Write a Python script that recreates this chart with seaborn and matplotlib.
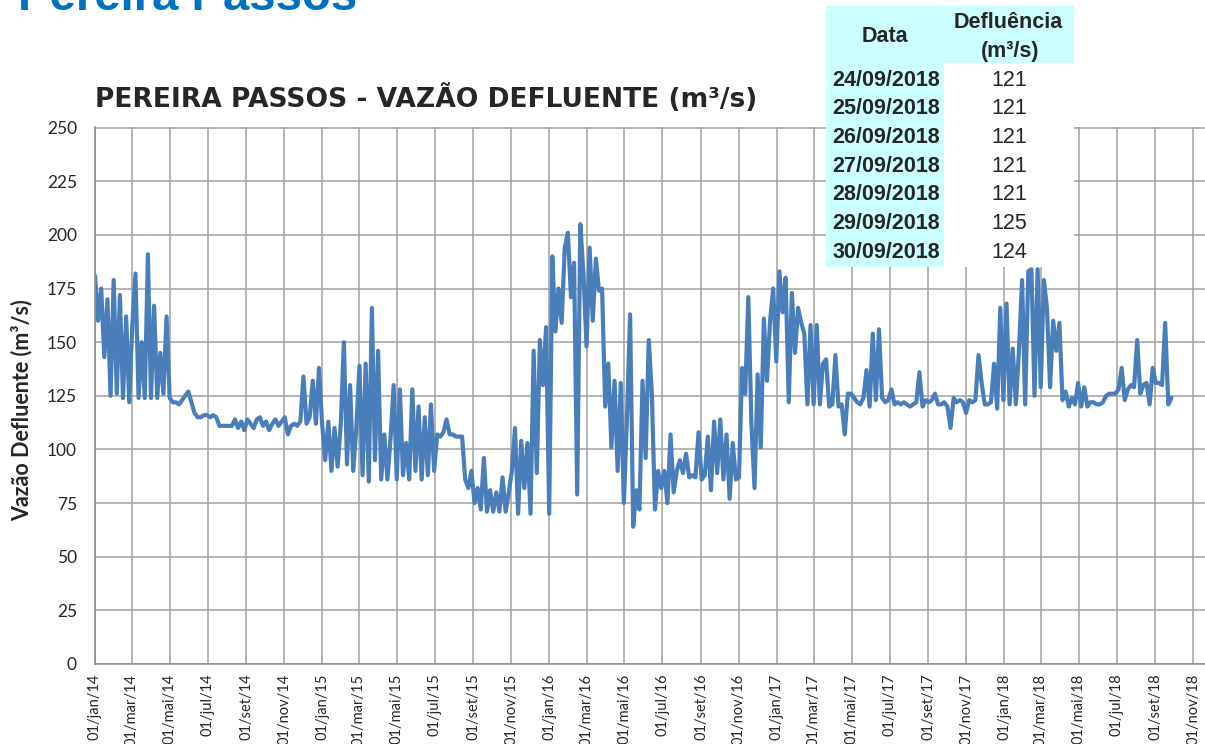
import pandas as pd
import matplotlib
matplotlib.use('Agg')
import matplotlib.pyplot as plt
from matplotlib.patches import Rectangle
import seaborn as sns

# ----------------------------
# DADOS (vazao defluente, um ponto a cada 5 dias a partir de 01/01/2014)
# ----------------------------
inicio = '2014-01-01'
passo = '5D'

vazao = [
    # 2014 jan-abr
    181, 160, 175, 143, 170, 125, 179, 126, 172, 124, 162, 122, 158, 182, 124,
    150, 124, 191, 124, 167, 124, 145, 126, 162, 124,
    # 2014 mai-dez
    122, 122, 121, 123, 125, 127, 122, 117, 115, 115, 116, 116, 115, 116, 115,
    111, 111, 111, 111, 111, 114, 110, 113, 109, 114, 112, 110, 114, 115, 111,
    113, 109, 112, 114, 111, 113, 115, 107, 111, 112, 111, 113, 134, 112, 115,
    132, 112, 138, 112,
    # 2015 jan-ago
    95, 113, 90, 110, 92, 112, 150, 93, 130, 90, 110, 139, 88, 140, 85,
    166, 95, 146, 86, 107, 86, 105, 130, 86, 128, 88, 103, 86, 128, 90,
    120, 86, 115, 88, 121, 90, 107, 106, 108, 114, 107, 107, 106, 106, 106,
    # 2015 set-dez
    86, 82, 90, 75, 82, 72, 96, 71, 81, 71, 80, 71, 87, 71, 80,
    90, 110, 70, 104, 82, 103, 70, 146, 89, 151, 130, 157, 70,
    # 2016
    190, 155, 175, 159, 194, 201, 171, 187, 79, 205, 182, 148, 194, 160, 189,
    174, 175, 120, 140, 101, 132, 90, 131, 75, 115, 163, 64, 81, 72, 132,
    96, 151, 126, 72, 90, 82, 90, 75, 107, 80, 90, 95, 89, 98, 87,
    88, 87, 108, 86, 88, 106, 81, 113, 89, 114, 86, 107, 77, 103, 86, 87,
    # 2016 nov - 2017 mai
    138, 126, 171, 112, 82, 135, 101, 161, 132, 160, 175, 141, 183, 164, 180,
    122, 173, 145, 166, 159, 154, 121, 158, 121, 158, 121, 140, 142, 120, 121,
    144, 120, 121, 107, 126, 126, 124, 122, 121,
    # 2017 mai-dez
    124, 137, 120, 154, 123, 156, 124, 122, 123, 128, 121, 122, 121, 122, 121,
    120, 121, 122, 136, 120, 123, 122, 123, 126, 121, 121, 122, 120, 110, 124,
    122, 123, 122, 117, 123, 122, 123, 144, 131, 121, 121, 122, 140, 119,
    # 2018
    166, 123, 168, 121, 147, 121, 146, 179, 121, 183, 184, 125, 184, 129, 179,
    166, 129, 160, 146, 159, 123, 127, 120, 124, 121, 131, 120, 129, 120, 122,
    122, 121, 121, 122, 125, 126, 126, 126, 128, 138, 123, 128, 130, 129, 151,
    126, 130, 131, 121, 138, 131, 131, 130, 159, 121, 124,
]

meses = ['jan', 'mar', 'mai', 'jul', 'set', 'nov']
y_ticks = [0, 25, 50, 75, 100, 125, 150, 175, 200, 225, 250]

tabela_datas = ['24/09/2018', '25/09/2018', '26/09/2018', '27/09/2018',
                '28/09/2018', '29/09/2018', '30/09/2018']
tabela_valores = [121, 121, 121, 121, 121, 125, 124]

df = pd.DataFrame({
    'data': pd.date_range(inicio, periods=len(vazao), freq=passo),
    'vazao': vazao,
})

W, H = 1205, 744

sns.set_style('white')
plt.rcParams['font.family'] = ['Lato', 'DejaVu Sans']

fig = plt.figure(figsize=(W / 100, H / 100), dpi=100)
ax = fig.add_axes([95 / W, 80 / H, 1110 / W, 537 / H])

# ----------------------------
# LINHA
# ----------------------------
sns.lineplot(data=df, x='data', y='vazao', ax=ax, color='#4A7EBB',
             linewidth=3.0, solid_joinstyle='round', solid_capstyle='round')

ticks = pd.date_range('2014-01-01', '2018-11-01', freq='2MS')
labels = [f"01/{meses[(d.month - 1) // 2]}/{d.strftime('%y')}" for d in ticks]
ax.set_xticks(ticks)
ax.set_xticklabels(labels, rotation=90, fontsize=10.5)
ax.set_xlim(pd.Timestamp('2014-01-01'), pd.Timestamp('2018-11-20'))

ax.set_yticks(y_ticks)
ax.set_yticklabels([str(v) for v in y_ticks], fontsize=12.5)
ax.set_ylim(0, 250.3)

ax.set_xlabel('')
ax.set_ylabel('')

grid_cor = '#A0A0A0'
ax.grid(True, color=grid_cor, linewidth=1.1)
ax.set_axisbelow(True)
for lado in ['top', 'right']:
    ax.spines[lado].set_visible(False)
for lado in ['left', 'bottom']:
    ax.spines[lado].set_color('#8C8C8C')
    ax.spines[lado].set_linewidth(1.1)

ax.tick_params(axis='y', length=5, width=1.1, color='#8C8C8C', pad=8)
ax.tick_params(axis='x', length=5, width=1.1, color='#8C8C8C', pad=2)

# ----------------------------
# TEXTOS
# ----------------------------
fig.text(18 / W, 1 - 9.5 / H, 'Pereira Passos', color='#0070C0',
         fontsize=34, fontweight='bold', family='Liberation Sans',
         ha='left', va='baseline')

fig.text(95 / W, 1 - 99 / H, 'PEREIRA PASSOS - VAZÃO DEFLUENTE (m³/s)',
         fontsize=19.1, fontweight='bold', family='DejaVu Sans',
         ha='left', va='center')

fig.text(22 / W, 1 - 410 / H, 'Vazão Defluente (m³/s)', rotation=90,
         fontsize=15.5, fontweight='bold', family='Lato',
         ha='center', va='center')

# ----------------------------
# TABELA
# ----------------------------
def caixa(x0, y0, x1, y1, cor):
    fig.add_artist(Rectangle((x0 / W, 1 - y1 / H), (x1 - x0) / W, (y1 - y0) / H,
                             transform=fig.transFigure, facecolor=cor,
                             edgecolor='none', zorder=5))


def texto(x, y, s, bold):
    fig.text(x / W, 1 - y / H, s, fontsize=15.5, family='Liberation Sans',
             fontweight='bold' if bold else 'normal',
             ha='center', va='center', zorder=6)


caixa(826, 6, 1074, 63, '#CCFFFF')
caixa(826, 63, 944, 267, '#CCFFFF')
caixa(944, 63, 1074, 267, 'white')

texto(885, 37, 'Data', True)
texto(1008, 23, 'Defluência', True)
texto(1010, 52, '(m³/s)', True)

for k, (d, v) in enumerate(zip(tabela_datas, tabela_valores)):
    yy = 80 + k * 28.7
    texto(886, yy, d, True)
    texto(1009, yy, str(v), False)

fig.savefig('out.png', dpi=100)
